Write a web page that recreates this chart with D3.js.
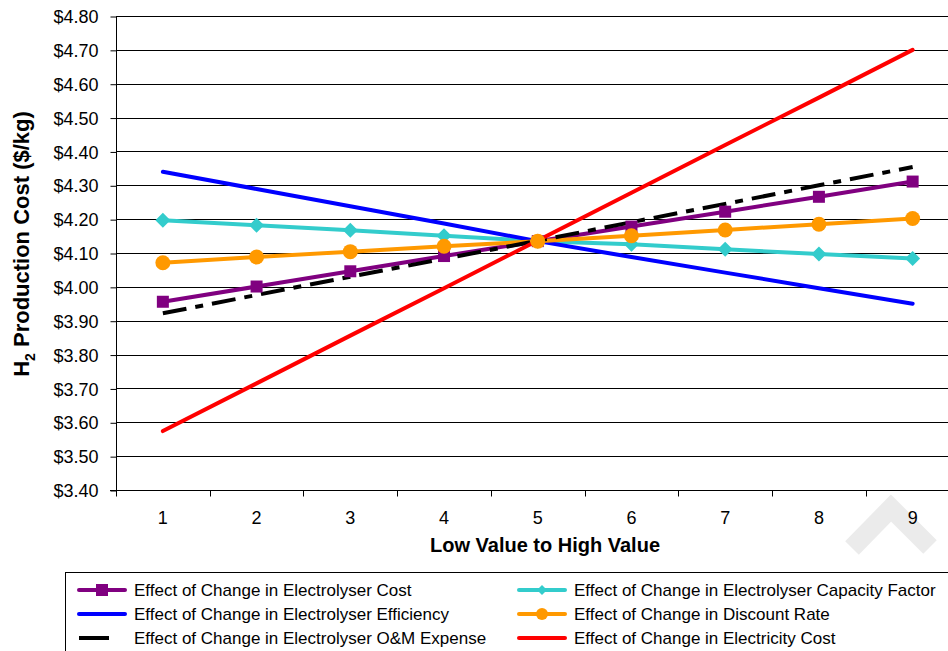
<!DOCTYPE html>
<html>
<head>
<meta charset="utf-8">
<script src="https://cdn.jsdelivr.net/npm/d3@7"></script>
<style>
  html, body { margin: 0; padding: 0; background: #fff; }
  svg { display: block; font-family: "Liberation Sans", Arial, sans-serif; }
</style>
</head>
<body>
<svg id="chart" width="948" height="651"></svg>
<script>
// Sensitivity steps, low value (1) to high value (9)
const steps = [1, 2, 3, 4, 5, 6, 7, 8, 9];

// H2 production cost ($/kg) for each sensitivity case
const electrolyserCost     = [3.956, 4.001, 4.046, 4.091, 4.135, 4.178, 4.222, 4.266, 4.311];
const capacityFactor       = [4.197, 4.182, 4.167, 4.151, 4.135, 4.126, 4.111, 4.097, 4.084];
const electrolyserEff      = [4.340, 4.289, 4.238, 4.187, 4.135, 4.088, 4.042, 3.996, 3.950];
const discountRate         = [4.071, 4.088, 4.104, 4.120, 4.135, 4.151, 4.168, 4.185, 4.202];
const omExpense            = [3.922, 3.976, 4.030, 4.083, 4.136, 4.191, 4.245, 4.300, 4.354];
const electricityCost      = [3.574, 3.715, 3.856, 3.996, 4.137, 4.278, 4.419, 4.559, 4.700];

// Y axis ticks
const yTicks = [3.40, 3.50, 3.60, 3.70, 3.80, 3.90, 4.00, 4.10, 4.20, 4.30, 4.40, 4.50, 4.60, 4.70, 4.80];

const seriesNames = [
  "Effect of Change in Electrolyser Cost",
  "Effect of Change in Electrolyser Capacity Factor",
  "Effect of Change in Electrolyser Efficiency",
  "Effect of Change in Discount Rate",
  "Effect of Change in Electrolyser O&M Expense",
  "Effect of Change in Electricity Cost"
];

const series = [
  { name: seriesNames[0], values: electrolyserCost, color: "#800080", marker: "square" },
  { name: seriesNames[1], values: capacityFactor,   color: "#33CCCC", marker: "diamond" },
  { name: seriesNames[2], values: electrolyserEff,  color: "#0000FF", marker: null },
  { name: seriesNames[3], values: discountRate,     color: "#FF9900", marker: "circle" },
  { name: seriesNames[4], values: omExpense,        color: "#000000", marker: null, dash: "24,9,8,9" },
  { name: seriesNames[5], values: electricityCost,  color: "#FF0000", marker: null }
];

const svg = d3.select("#chart");
const plot = { left: 116, top: 16, right: 959.5, bottom: 490 };

// Faint draft watermark stroke in the lower right corner, behind the chart
svg.append("path")
  .attr("d", "M852,548L891,508L930,547")
  .attr("fill", "none")
  .attr("stroke", "#ebebeb")
  .attr("stroke-width", 19)
  .attr("stroke-linejoin", "miter");

const x = d3.scaleBand().domain(steps).range([plot.left, plot.right]);
const y = d3.scaleLinear().domain([3.40, 4.80]).range([plot.bottom, plot.top]);
const cx = d => x(d) + x.bandwidth() / 2;

// Horizontal gridlines
svg.append("g").selectAll("line")
  .data(yTicks)
  .join("line")
  .attr("x1", plot.left).attr("x2", plot.right)
  .attr("y1", d => Math.round(y(d)) + 0.5).attr("y2", d => Math.round(y(d)) + 0.5)
  .attr("stroke", "#000").attr("stroke-width", 1);

// Y axis
const yAxis = svg.append("g")
  .attr("transform", `translate(${plot.left + 0.5},0.5)`)
  .call(d3.axisLeft(y).tickValues(yTicks).tickSize(6).tickPadding(12)
    .tickFormat(d => "$" + d3.format(".2f")(d)));
yAxis.selectAll("text").attr("font-size", 18).attr("fill", "#000")
  .attr("font-family", "Liberation Sans, Arial, sans-serif")
  .attr("dy", "0.34em");
yAxis.selectAll("line,path").attr("stroke", "#000");
yAxis.select(".domain").attr("d", `M0,${plot.top}V${plot.bottom}`);

// X axis: ticks between categories, labels centred in each band
const xAxis = svg.append("g")
  .attr("transform", `translate(0,${plot.bottom + 0.5})`);
xAxis.append("line")
  .attr("x1", plot.left - 6).attr("x2", plot.right)
  .attr("stroke", "#000");
xAxis.selectAll(".tk")
  .data(steps.slice(1))
  .join("line")
  .attr("class", "tk")
  .attr("x1", d => Math.round(x(d)) + 0.5).attr("x2", d => Math.round(x(d)) + 0.5)
  .attr("y1", 0).attr("y2", 6)
  .attr("stroke", "#000");
xAxis.append("line")
  .attr("x1", plot.left + 0.5).attr("x2", plot.left + 0.5)
  .attr("y1", 0).attr("y2", 6).attr("stroke", "#000");
xAxis.selectAll(".lbl")
  .data(steps)
  .join("text")
  .attr("class", "lbl")
  .attr("x", d => cx(d)).attr("y", 33)
  .attr("text-anchor", "middle")
  .attr("font-size", 18)
  .text(d => d);

// Axis titles
svg.append("text")
  .attr("x", 545).attr("y", 552)
  .attr("text-anchor", "middle")
  .attr("font-size", 20).attr("font-weight", "bold")
  .text("Low Value to High Value");

const yTitle = svg.append("text")
  .attr("transform", "translate(29,244) rotate(-90)")
  .attr("text-anchor", "middle")
  .attr("font-size", 22).attr("font-weight", "bold");
yTitle.append("tspan").text("H");
yTitle.append("tspan").attr("font-size", 14).attr("dy", 6).text("2");
yTitle.append("tspan").attr("dy", -6).text(" Production Cost ($/kg)");

// Series lines
const line = d3.line().x((d, i) => cx(steps[i])).y(d => y(d));
svg.append("g").selectAll("path")
  .data(series)
  .join("path")
  .attr("d", s => line(s.values))
  .attr("fill", "none")
  .attr("stroke", s => s.color)
  .attr("stroke-width", 4)
  .attr("stroke-linecap", s => s.dash ? "butt" : "round")
  .attr("stroke-linejoin", "round")
  .attr("stroke-dasharray", s => s.dash || null);

// Markers
function drawMarker(g, type, color, px, py) {
  if (type === "square") {
    g.append("rect").attr("x", px - 6).attr("y", py - 6)
      .attr("width", 12).attr("height", 12).attr("fill", color);
  } else if (type === "diamond") {
    g.append("path")
      .attr("d", `M${px},${py - 7.5}L${px + 7.5},${py}L${px},${py + 7.5}L${px - 7.5},${py}Z`)
      .attr("fill", color);
  } else if (type === "circle") {
    g.append("circle").attr("cx", px).attr("cy", py).attr("r", 7.5).attr("fill", color);
  }
}
const markerLayer = svg.append("g");
series.filter(s => s.marker).forEach(s => {
  s.values.forEach((v, i) => drawMarker(markerLayer, s.marker, s.color, cx(steps[i]), y(v)));
});

// Legend
const legend = svg.append("g");
legend.append("rect")
  .attr("x", 65.5).attr("y", 572.5)
  .attr("width", 900).attr("height", 120)
  .attr("fill", "#fff").attr("stroke", "#000");

series.forEach((s, k) => {
  const col = k % 2, row = Math.floor(k / 2);
  const lx = col === 0 ? 77 : 517;
  const ly = 590 + row * 24;
  const g = legend.append("g");
  if (s.dash) {
    g.append("line").attr("x1", lx + 2).attr("x2", lx + 32)
      .attr("y1", ly).attr("y2", ly)
      .attr("stroke", s.color).attr("stroke-width", 4);
  } else {
    g.append("line").attr("x1", lx + 2).attr("x2", lx + 48)
      .attr("y1", ly).attr("y2", ly)
      .attr("stroke", s.color).attr("stroke-width", 4)
      .attr("stroke-linecap", "round");
  }
  if (s.marker === "square") {
    g.append("rect").attr("x", lx + 19).attr("y", ly - 6)
      .attr("width", 12).attr("height", 12).attr("fill", s.color);
  } else if (s.marker === "diamond") {
    g.append("path")
      .attr("d", `M${lx + 25},${ly - 5}L${lx + 30},${ly}L${lx + 25},${ly + 5}L${lx + 20},${ly}Z`)
      .attr("fill", s.color);
  } else if (s.marker === "circle") {
    g.append("circle").attr("cx", lx + 25).attr("cy", ly).attr("r", 6).attr("fill", s.color);
  }
  g.append("text")
    .attr("x", lx + 57).attr("y", ly)
    .attr("dy", "0.35em")
    .attr("font-size", 17)
    .text(s.name);
});
</script>
</body>
</html>
